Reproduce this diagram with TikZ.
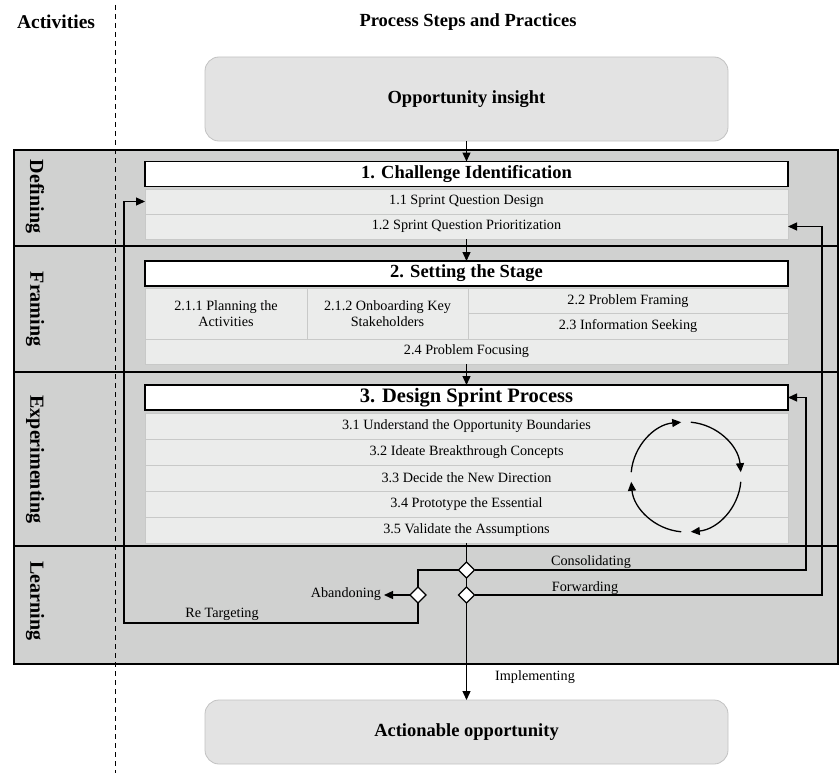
\documentclass[tikz,border=0pt]{standalone}
\usepackage{fontspec}
\setmainfont{Liberation Serif}
\usetikzlibrary{arrows.meta,shapes.geometric,calc}
\definecolor{framegray}{HTML}{D0D1D0}
\definecolor{rowgray}{HTML}{EBECEB}
\definecolor{rowline}{HTML}{C8C9C8}
\definecolor{boxgray}{HTML}{E3E3E3}
\definecolor{boxline}{HTML}{C2C2C2}
\begin{document}
\begin{tikzpicture}[x=1pt,y=-1pt,
  every node/.style={inner sep=0pt, outer sep=0pt},
  big/.style={font=\fontsize{18.5}{21}\selectfont\bfseries},
  small/.style={font=\fontsize{14.2}{16}\selectfont},
  rowcell/.style={draw=rowline, line width=1pt, fill=rowgray, small, align=center},
  header/.style={draw=black, line width=1.6pt, fill=white, big, minimum width=643pt, minimum height=25pt},
  endbox/.style={draw=boxline, line width=0.8pt, fill=boxgray, rounded corners=14pt, big, minimum width=523pt},
  actlabel/.style={rotate=-90, font=\fontsize{20}{22}\selectfont\bfseries},
  conn/.style={line width=1.3pt},
  arr/.style={conn, -{Triangle[length=9pt,width=8pt]}},
  gate/.style={diamond, draw, fill=white, line width=1.3pt, minimum size=16pt},
  lbl/.style={small}
]
\useasboundingbox (0,0) rectangle (840,773);

% column titles
\node[font=\fontsize{19.5}{22}\selectfont\bfseries] (tact) at (56,22) {Activities};
\node[big] (tproc) at (468,22) {Process Steps and Practices};

% frame
\fill[framegray] (14,150) rectangle (838,664);
\draw[line width=2.2pt] (14,150) rectangle (838,664);
\draw[line width=2.2pt] (14,246) -- (838,246);
\draw[line width=2.2pt] (14,372) -- (838,372);
\draw[line width=2.2pt] (14,546) -- (838,546);

% dashed separator
\draw[line width=0.8pt, dash pattern=on 5pt off 4pt] (115,5) -- (115,773);

% activity labels
\node[actlabel] (lDef) at (35,196.5) {Defining};
\node[actlabel] (lFra) at (35,309) {Framing};
\node[actlabel] (lExp) at (35,459.5) {Experimenting};
\node[actlabel] (lLea) at (35,601) {Learning};

% start / end boxes
\node[endbox, minimum height=84pt] (opp) at (466.5,99) {Opportunity insight};
\node[endbox, minimum height=64pt] (aop) at (466.5,732) {Actionable opportunity};

% 1. Challenge Identification
\node[header] (h1) at (466.5,174) {1. Challenge Identification};
\node[rowcell, minimum width=643pt, minimum height=25pt] (r11) at (466.5,201.5) {1.1 Sprint Question Design};
\node[rowcell, minimum width=643pt, minimum height=25pt] (r12) at (466.5,226.5) {1.2 Sprint Question Prioritization};

% 2. Setting the Stage
\node[header] (h2) at (466.5,273.5) {2. Setting the Stage};
\node[rowcell, minimum width=162pt, minimum height=51pt] (r211) at (226,313.5) {2.1.1 Planning the\\Activities};
\node[rowcell, minimum width=161pt, minimum height=51pt] (r212) at (387.5,313.5) {2.1.2 Onboarding Key\\Stakeholders};
\node[rowcell, minimum width=320pt, minimum height=25.5pt] (r22) at (628,300.75) {2.2 Problem Framing};
\node[rowcell, minimum width=320pt, minimum height=25.5pt] (r23) at (628,326.25) {2.3 Information Seeking};
\node[rowcell, minimum width=643pt, minimum height=25pt] (r24) at (466.5,351.5) {2.4 Problem Focusing};

% 3. Design Sprint Process
\node[header, font=\fontsize{20.5}{22}\selectfont\bfseries] (h3) at (466.5,397.5) {3. Design Sprint Process};
\node[rowcell, minimum width=643pt, minimum height=26pt] (r31) at (466.5,426) {3.1 Understand the Opportunity Boundaries};
\node[rowcell, minimum width=643pt, minimum height=26pt] (r32) at (466.5,452) {3.2 Ideate Breakthrough Concepts};
\node[rowcell, minimum width=643pt, minimum height=26pt] (r33) at (466.5,478) {3.3 Decide the New Direction};
\node[rowcell, minimum width=643pt, minimum height=26pt] (r34) at (466.5,504) {3.4 Prototype the Essential};
\node[rowcell, minimum width=643pt, minimum height=26pt] (r35) at (466.5,530) {3.5 Validate the Assumptions};

% cycle
\coordinate (cyc) at (686,477);
\draw[arr] ($(cyc)+(175:55pt)$) arc[start angle=175, end angle=95, radius=55pt];
\draw[arr] ($(cyc)+(85:55pt)$) arc[start angle=85, end angle=5, radius=55pt];
\draw[arr] ($(cyc)+(-5:55pt)$) arc[start angle=-5, end angle=-85, radius=55pt];
\draw[arr] ($(cyc)+(-95:55pt)$) arc[start angle=-95, end angle=-175, radius=55pt];

% gates
\node[gate] (d1) at (466.5,570) {};
\node[gate] (d2) at (466.5,595) {};
\node[gate] (d3) at (418,595) {};

% labels
\node[lbl] (lcons) at (591,562) {Consolidating};
\node[lbl] (lfwd) at (585,588) {Forwarding};
\node[lbl, anchor=east] (aband) at (381,594) {Abandoning};
\node[lbl] (lret) at (222,614) {Re Targeting};
\node[lbl] (limp) at (535,677) {Implementing};

% main flow
\draw[arr] (opp.south) -- (h1.north);
\draw[arr] (r12.south) -- (h2.north);
\draw[arr] (r24.south) -- (h3.north);
\draw[conn] (r35.south) -- (d1.north);
\draw[conn] (d1.south) -- (d2.north);
\draw[arr] (d2.south) -- (aop.north);

% feedback loops
\draw[arr] (d1.east) -| ([xshift=18pt]h3.east) -- (h3.east);
\draw[arr] (d2.east) -| ([xshift=34pt]r12.east) -- (r12.east);
\draw[conn] (d1.west) -| (d3.north);
\draw[arr] (d3.west) -- ([xshift=3pt]d3.west -| aband.east);
\draw[arr] (d3.south) -- ++(0,20) -| ([xshift=-21pt]r11.west) -- (r11.west);
\end{tikzpicture}
\end{document}
